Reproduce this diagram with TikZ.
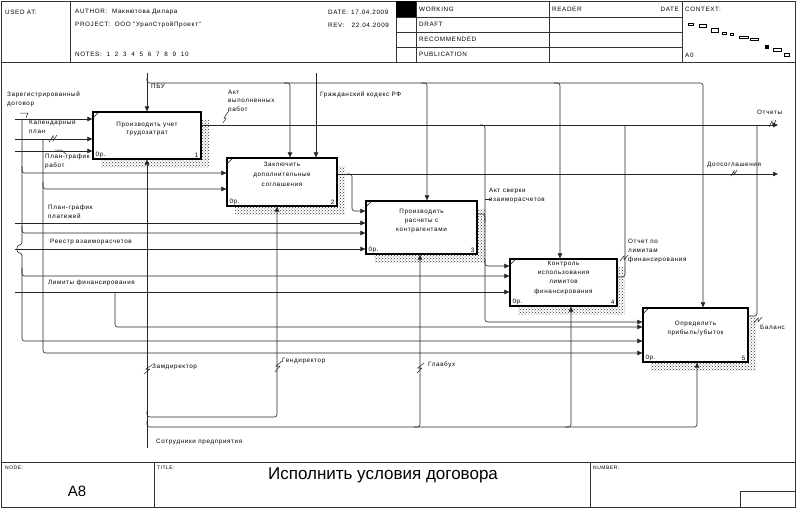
\documentclass[tikz,border=0pt]{standalone}
\usepackage{fontspec}
\setmainfont{Liberation Sans}
\usetikzlibrary{arrows.meta,patterns,shadows}
\newfontfamily\lbf{Liberation Sans}[LetterSpace=10]
\newcommand\lblfont{\lbf\fontsize{6.3}{8.8}\selectfont}
\begin{document}
\begin{tikzpicture}[x=1pt,y=-1pt,
  ln/.style={draw=black!85,line width=0.6pt,rounded corners=2.5pt},
  arr/.style={ln,-{Triangle[length=5pt,width=4.5pt]}},
  lbl/.style={font=\lblfont,inner sep=0,anchor=north west,align=left},
  btxt/.style={font=\lblfont,inner sep=0,anchor=north,align=center},
  hd/.style={font=\lblfont,inner sep=0,anchor=west},
  frm/.style={draw=black!80,line width=0.5pt},
  box/.style={draw,line width=1.3pt,fill=white,inner sep=0,
    general shadow={shadow xshift=8pt,shadow yshift=-8pt,pattern=crosshatch dots,pattern color=black!80}},
  sq/.style={draw=black!85,line width=0.5pt}]
\useasboundingbox (0,0) rectangle (800,509);
\fill[white] (0,0) rectangle (800,509);
% frame
\draw[frm] (1,1) rectangle (795,507);
\draw[frm] (1,62) -- (795,62);
\draw[frm] (1,462) -- (795,462);
\draw[frm] (70,1) -- (70,62);
\draw[frm] (396,1) -- (396,62);
\draw[frm] (416,1) -- (416,62);
\draw[frm] (549,1) -- (549,62);
\draw[frm] (682,1) -- (682,62);
\foreach \yy in {17,32,47} \draw[frm] (396,\yy) -- (682,\yy);
\fill[black] (396,1) rectangle (416,17);
\node[hd] (usedat) at (5,12) {USED AT:};
\node[hd] (author) at (75,12) {AUTHOR:\ \ Макиютова Дилара};
\node[hd] (date) at (328,12) {DATE: 17.04.2009};
\node[hd] (project) at (75,25) {PROJECT:\ \ ООО "УралСтройПроект"};
\node[hd] (rev) at (328,25) {REV:\ \ \ 22.04.2009};
\node[hd] (notes) at (75,54) {NOTES:\ \ 1\ \ 2\ \ 3\ \ 4\ \ 5\ \ 6\ \ 7\ \ 8\ \ 9\ \ 10};
\node[hd] (working) at (419,9.5) {WORKING};
\node[hd] (draft) at (419,24.5) {DRAFT};
\node[hd] (recom) at (419,39.5) {RECOMMENDED};
\node[hd] (public) at (419,54.5) {PUBLICATION};
\node[hd] (reader) at (552,9.5) {READER};
\node[hd,anchor=east] (rdate) at (679,9.5) {DATE};
\node[hd] (context) at (685,9.5) {CONTEXT:};
\node[hd] (a0) at (685,55) {A0};
% context boxes
\foreach \a/\b/\c/\d in {688/22.7/693.3/24.7, 699.3/24.3/706/26.7, 710.7/27.7/718.3/32.3, 721.7/31.7/726/34.3, 730/33.3/733.3/35.3, 739.3/35.7/748.3/37.7, 750/37.7/758.3/39.7, 772.7/47.7/780.7/51, 784/52.7/789.3/55.7}
  \draw[line width=0.4pt] (\a,\b) rectangle (\c,\d);
\fill[black] (765,45) rectangle (769.3,49);
% footer
\draw[frm] (154,462) -- (154,507);
\draw[frm] (590,462) -- (590,507);
\draw[frm] (740,491) -- (795,491);
\draw[frm] (740,491) -- (740,507);
\node[lbl,font=\lbf\fontsize{5}{6}\selectfont] (nodel) at (5,466) {NODE:};
\node[lbl,font=\lbf\fontsize{5}{6}\selectfont] (titlel) at (157,466) {TITLE:};
\node[lbl,font=\lbf\fontsize{5}{6}\selectfont] (numl) at (593,466) {NUMBER:};
\node[font=\fontsize{17}{19}\selectfont,inner sep=0] (title) at (383,475) {Исполнить условия договора};
\node[font=\fontsize{15}{17}\selectfont,inner sep=0] (nodeA) at (77,491) {A8};

% boxes
\node[box,minimum width=108pt,minimum height=47pt] (b1) at (147,135.5) {};
\node[box,minimum width=110pt,minimum height=48pt] (b2) at (282,182) {};
\node[box,minimum width=111pt,minimum height=53pt] (b3) at (421.5,227.5) {};
\node[box,minimum width=107pt,minimum height=47pt] (b4) at (563.5,282.5) {};
\node[box,minimum width=105pt,minimum height=54pt] (b5) at (695.5,335) {};
\foreach \b/\n in {b1/1,b2/2,b3/3,b4/4,b5/5}{
  \draw[line width=0.5pt] ([xshift=1pt,yshift=-6pt]\b.north west) -- ([xshift=6pt,yshift=-1pt]\b.north west);
  \node[font=\lblfont,inner sep=0,anchor=south west] at ([xshift=3pt,yshift=2pt]\b.south west) {0р.};
  \node[font=\lblfont,inner sep=0,anchor=south east] at ([xshift=-3pt,yshift=2pt]\b.south east) {\n};
}
\node[btxt] (t1) at (147,121.5) {Производить учет\\трудозатрат};
\node[btxt,align=center,font=\lbf\fontsize{6.3}{10}\selectfont] (t2) at (282,162) {Заключить\\дополнительные\\соглашения};
\node[btxt,font=\lbf\fontsize{6.3}{9.2}\selectfont] (t3) at (421.5,208.5) {Производить\\расчеты с\\контрагентами};
\node[btxt,font=\lbf\fontsize{6.3}{9.4}\selectfont] (t4) at (563.5,260.5) {Контроль\\использования\\лимитов\\финансирования};
\node[btxt] (t5) at (695.5,321) {Определить\\прибыль/убыток};

% sources and sinks
\coordinate (sA) at (15,119);
\coordinate (sB) at (15,139);
\coordinate (sC) at (15,151);
\coordinate (sD) at (15,223);
\coordinate (sE) at (15,249);
\coordinate (sF) at (15,292);
\coordinate (sG) at (147,73);
\coordinate (sH) at (316,73);
\coordinate (sM) at (147,448);
\coordinate (eO) at (778,125);
\coordinate (eP) at (778,174);

% inputs
\draw[arr] (sA) -- (sA -| b1.west);
\draw[arr] (sB) -- (sB -| b1.west);
\draw[arr] (sC) -- (sC -| b1.west);
\draw[arr] (22,119) -- (22,245) .. controls (16,245) and (16,253) .. (22,253) |- (b5.west |- 0,341);
\draw[arr] (22,166) |- (b2.west |- 0,173);
\draw[arr] (22,226) |- (b3.west |- 0,233);
\draw[arr] (22,268) |- (b4.west |- 0,276);
\draw[arr] (43,139) |- (b5.west |- 0,353);
\draw[arr] (43,182) |- (b2.west |- 0,189);
\draw[arr] (sD) -- (sD -| b3.west);
\draw[arr] (sE) -- (sE -| b3.west);
\draw[arr] (sF) -- (sF -| b4.west);
\draw[arr] (115,292) |- (b5.west |- 0,327);
% controls
\draw[arr] (sG) -- (sG |- b1.north);
\draw[arr] (147,78) |- (400,83) -| ([xshift=7.5pt]b5.north);
\draw[arr] (284,83) -| ([xshift=8pt]b2.north);
\draw[arr] (421,83) -| ([xshift=5.5pt]b3.north);
\draw[arr] (554,83) -| ([xshift=-3.5pt]b4.north);
\draw[arr] (sH) -- (sH |- b2.north);
% outputs
\draw[arr] (b1.east |- 0,125) -- (eO);
\draw[arr] (480,125) -- (485,125) -- (485,322) -- (b5.west |- 0,322);
\draw[arr] (485,259) |- (b4.west |- 0,266);
\draw[ln] (b3.east |- 0,214) -| (485,222);
\draw[ln] (b4.east |- 0,277) -| (625,125);
\draw[ln] (b5.east |- 0,316) -| (757,125);
\draw[arr] (b2.east |- 0,174) -- (eP);
\draw[arr] (347,174) -- (352,174) -- (352,211) -- (b3.west |- 0,211);
% mechanisms
\draw[arr] (sM) -- (sM |- b1.south);
\draw[arr] (147,411) |- (250,417) -| ([xshift=-5pt]b2.south);
\draw[arr] (147,421) |- (300,427) -| ([xshift=1.5pt]b5.south);
\draw[arr] (414,427) -| ([xshift=-1.5pt]b3.south);
\draw[arr] (565,427) -| ([xshift=7.5pt]b4.south);

% labels
\node[lbl] (lA) at (7,92) {Зарегистрированный\\договор};
\node[lbl] (lB) at (29,119.5) {Календарный\\план};
\node[lbl] (lC) at (45,154) {План-график\\работ};
\node[lbl] (lG) at (151,83.5) {ПБУ};
\node[lbl] (lO1) at (228,89.5) {Акт\\выполненных\\работ};
\node[lbl] (lH) at (320,91.5) {Гражданский кодекс РФ};
\node[lbl] (lD) at (48,204.5) {План-график\\платежей};
\node[lbl] (lE) at (50,239) {Реестр взаиморасчетов};
\node[lbl] (lF) at (48,279.5) {Лимиты финансирования};
\node[lbl] (lO3) at (489,188) {Акт сверки\\взаиморасчетов};
\node[lbl] (lO4) at (628,239) {Отчет по\\лимитам\\финансирования};
\node[lbl] (lO) at (757,109.5) {Отчеты};
\node[lbl] (lP) at (707,161.5) {Допсоглашения};
\node[lbl] (lO5) at (760,325) {Баланс};
\node[lbl] (lM1) at (152,364) {Замдиректор};
\node[lbl] (lM2) at (282,358) {Гендиректор};
\node[lbl] (lM3) at (428,361.5) {Главбух};
\node[lbl] (lM) at (156,439) {Сотрудники предприятия};

% squiggles
\draw[sq] (20,113) -- (28,113) -- (26,118);
\draw[sq] (49,142) -- (53,136) -- (53,141) -- (57,135);
\draw[sq] (55,150) -- (61,150) -- (66,154);
\draw[sq] (223,123) -- (226,118) -- (224,118) -- (228,112);
\draw[sq] (485,199) -- (491,199);
\draw[sq] (620,261) -- (624,256) -- (624,260) -- (628,255);
\draw[sq] (754,323) -- (758,318) -- (758,322) -- (762,317);
\draw[sq] (769,127) -- (772,121) -- (773,126) -- (776,120);
\draw[sq] (731,176) -- (734,171) -- (734,175) -- (737,170);
\draw[sq] (144,374) -- (150,369) -- (146,369) -- (152,365);
\draw[sq] (275,372) -- (280,366) -- (276,366) -- (282,361);
\draw[sq] (417,373) -- (422,368) -- (418,368) -- (424,363);
\end{tikzpicture}
\end{document}
